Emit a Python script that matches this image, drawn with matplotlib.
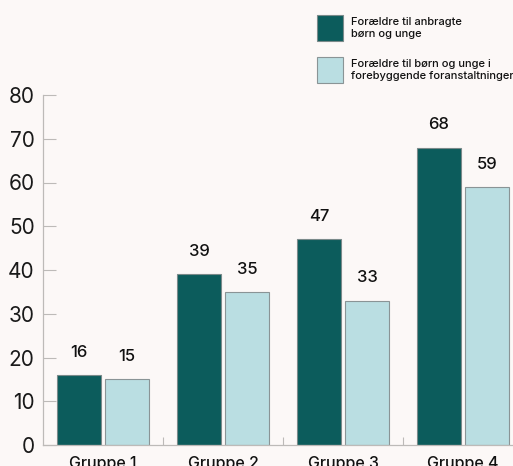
import numpy as np
import matplotlib
matplotlib.use('Agg')
import matplotlib.pyplot as plt
from matplotlib.patches import Rectangle

groups = ['Gruppe 1', 'Gruppe 2', 'Gruppe 3', 'Gruppe 4']
anbragte = [16, 39, 47, 68]
forebyggende = [15, 35, 33, 59]
series_names = ['Forældre til anbragte\nbørn og unge',
                'Forældre til børn og unge i\nforebyggende foranstaltninger']

bg = '#fcf8f7'
dark = '#0c5c5c'
light = '#badee2'
grey = '#bdbab8'

plt.rcParams['font.family'] = ['Inter', 'DejaVu Sans']

fig = plt.figure(figsize=(5.13, 4.66), dpi=100, facecolor=bg)
ax = fig.add_axes([43 / 513, 21 / 466, 480 / 513, 350 / 466], facecolor=bg)

x = np.arange(len(groups))
w = 0.367
b1 = ax.bar(x - 0.2, anbragte, w, color=dark, edgecolor='#7a8a8a', linewidth=0.8)
b2 = ax.bar(x + 0.2, forebyggende, w, color=light, edgecolor='#8a9496', linewidth=0.8)

for bars in (b1, b2):
    for r in bars:
        ax.annotate(f'{r.get_height():.0f}', (r.get_x() + r.get_width() / 2, r.get_height()),
                    xytext=(0, 11), textcoords='offset points', ha='center', va='bottom',
                    fontsize=12, fontweight='medium', color='#111111')

ax.set_xlim(-0.5, 3.5)
ax.set_ylim(0, 80)
ax.set_yticks(range(0, 81, 10))
ax.tick_params(axis='y', direction='in', length=9, width=0.8, color=grey,
               labelsize=15, labelcolor='#1a1a1a', pad=6)
ax.set_xticks(x)
ax.set_xticklabels(groups, fontweight='medium')
ax.tick_params(axis='x', length=0, labelsize=11.5, labelcolor='#111111', pad=8)
ax.set_xticks([0.5, 1.5, 2.5], minor=True)
ax.tick_params(axis='x', which='minor', direction='in', length=6, width=0.8, color=grey)

for s in ('top', 'right'):
    ax.spines[s].set_visible(False)
for s in ('left', 'bottom'):
    ax.spines[s].set_color(grey)
    ax.spines[s].set_linewidth(0.9)

# legend drawn by hand in figure pixels
W, H = 513, 466
for (y0, col, ec), name in zip([(15, dark, '#7a8a8a'), (57, light, '#8a9496')], series_names):
    fig.add_artist(Rectangle((317 / W, 1 - (y0 + 26) / H), 26 / W, 26 / H,
                             transform=fig.transFigure, facecolor=col, edgecolor=ec, linewidth=0.8))
    fig.text(351 / W, 1 - (y0 + 13) / H, name, fontsize=8, fontweight='medium', va='center',
             ha='left', color='#111111', linespacing=1.35)

fig.savefig('out.png', dpi=100, facecolor=bg)
